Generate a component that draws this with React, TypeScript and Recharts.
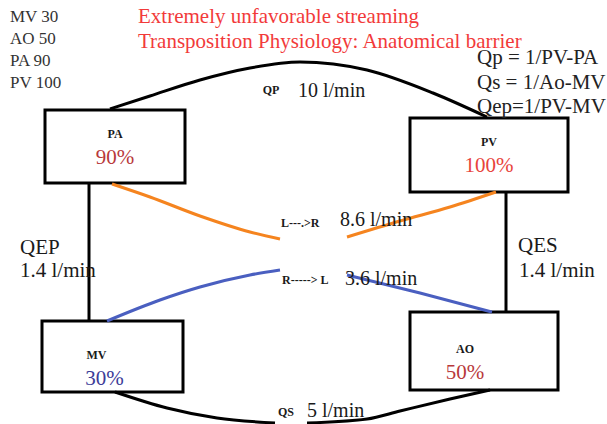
import React from 'react'
import {
  ComposedChart,
  Line,
  Scatter,
  XAxis,
  YAxis,
  ReferenceArea,
} from 'recharts'

// diagram drawn on a 607 x 424 coordinate grid (y grows downward)
const W = 607
const H = 424

// chambers: name, saturation, box corners
const chambers = [
  { name: 'PA', sat: '90%', x1: 45, x2: 185, y1: 110, y2: 183, color: '#b8393b' },
  { name: 'PV', sat: '100%', x1: 410, x2: 568, y1: 118, y2: 192, color: '#e8433b' },
  { name: 'MV', sat: '30%', x1: 42, x2: 183, y1: 321, y2: 392, color: '#3c3c98' },
  { name: 'AO', sat: '50%', x1: 410, x2: 558, y1: 312, y2: 390, color: '#b8393b' },
]

// flow paths between chambers
const qpPath = [
  { x: 110, y: 109 }, { x: 150, y: 96 }, { x: 200, y: 80 }, { x: 250, y: 68 },
  { x: 300, y: 62 }, { x: 367, y: 70 }, { x: 433, y: 93 }, { x: 487, y: 117 },
]
const qsLeft = [{ x: 115, y: 392 }, { x: 167, y: 408 }, { x: 217, y: 418 }, { x: 275, y: 423 }]
const qsRight = [
  { x: 307, y: 423 }, { x: 367, y: 419 }, { x: 400, y: 411 }, { x: 450, y: 399 }, { x: 490, y: 390 },
]
const lrLeft = [{ x: 112, y: 184 }, { x: 150, y: 197 }, { x: 200, y: 216 }, { x: 250, y: 232 }, { x: 280, y: 239 }]
const lrRight = [{ x: 347, y: 237 }, { x: 400, y: 221 }, { x: 450, y: 207 }, { x: 496, y: 192 }]
const rlLeft = [{ x: 107, y: 321 }, { x: 160, y: 300 }, { x: 200, y: 287 }, { x: 250, y: 275 }, { x: 280, y: 270 }]
const rlRight = [{ x: 347, y: 275 }, { x: 420, y: 293 }, { x: 492, y: 312 }]
const qepPath = [{ x: 89, y: 184 }, { x: 89, y: 321 }]
const qesPath = [{ x: 506, y: 192 }, { x: 506, y: 312 }]

const legendLines = ['MV 30', 'AO 50', 'PA 90', 'PV 100']
const titleLines = ['Extremely unfavorable streaming', 'Transposition Physiology: Anatomical barrier']
const formulas = ['Qp = 1/PV-PA', 'Qs = 1/Ao-MV', 'Qep=1/PV-MV']

type Note = {
  x: number
  y: number
  text: string
  size: number
  fill?: string
  bold?: boolean
  anchor?: 'start' | 'middle' | 'end'
}

const notes: Note[] = [
  ...legendLines.map((t, i) => ({ x: 10, y: 16 + i * 22, text: t, size: 17, fill: '#333' })),
  ...titleLines.map((t, i) => ({ x: 138, y: 16 + i * 25, text: t, size: 21, fill: '#f23a3a' })),
  ...formulas.map((t, i) => ({ x: 477, y: 57 + i * 24.5, text: t, size: 21, fill: '#222' })),
  { x: 271, y: 90, text: 'QP', size: 12, bold: true, anchor: 'middle' },
  { x: 298, y: 90, text: '10 l/min', size: 20 },
  { x: 20, y: 247, text: 'QEP', size: 21 },
  { x: 20, y: 270, text: '1.4 l/min', size: 21 },
  { x: 518, y: 245, text: 'QES', size: 21 },
  { x: 519, y: 270, text: '1.4 l/min', size: 21 },
  { x: 281, y: 223, text: 'L---.>R', size: 12, bold: true },
  { x: 340, y: 219, text: '8.6 l/min', size: 20 },
  { x: 282, y: 280, text: 'R-----> L', size: 12, bold: true },
  { x: 345, y: 278, text: '3.6 l/min', size: 20 },
  { x: 286, y: 412, text: 'QS', size: 12, bold: true, anchor: 'middle' },
  { x: 307, y: 410, text: '5 l/min', size: 20 },
  ...chambers.flatMap((c) => {
    const cx = (c.x1 + c.x2) / 2 - (c.name === 'MV' ? 16 : c.name === 'AO' ? 19 : 0)
    const top = c.y1 + (c.y2 - c.y1) * 0.33 + (c.name === 'MV' || c.name === 'AO' ? 11 : 0)
    return [
      { x: cx, y: top, text: c.name, size: 12, bold: true, anchor: 'middle' as const },
      { x: cx + (c.name === 'MV' ? 8 : 0), y: top + 23, text: c.sat, size: 21, fill: c.color, anchor: 'middle' as const },
    ]
  }),
]

const NoteShape = (props: any) => {
  const { cx, cy, payload } = props
  if (cx == null || cy == null) return null
  return (
    <text
      x={cx}
      y={cy}
      textAnchor={payload.anchor ?? 'start'}
      dominantBaseline="central"
      fontFamily="'Liberation Serif', 'Times New Roman', serif"
      fontSize={payload.size}
      fontWeight={payload.bold ? 700 : 400}
      fill={payload.fill ?? '#1a1a1a'}
    >
      {payload.text}
    </text>
  )
}

const paths: { data: { x: number; y: number }[]; color: string }[] = [
  { data: qpPath, color: '#000' },
  { data: qsLeft, color: '#000' },
  { data: qsRight, color: '#000' },
  { data: qepPath, color: '#000' },
  { data: qesPath, color: '#000' },
  { data: lrLeft, color: '#f5841f' },
  { data: lrRight, color: '#f5841f' },
  { data: rlLeft, color: '#4a5fc0' },
  { data: rlRight, color: '#4a5fc0' },
]

export default function App() {
  return (
    <div style={{ position: 'absolute', left: 0, top: 0, background: '#fff' }}>
      <ComposedChart width={W} height={H} margin={{ top: 0, right: 0, bottom: 0, left: 0 }}>
        <XAxis type="number" dataKey="x" domain={[0, W]} allowDataOverflow hide />
        <YAxis type="number" dataKey="y" domain={[0, H]} allowDataOverflow reversed hide />
        {paths.map((p, i) => (
          <Line
            key={i}
            data={p.data}
            dataKey="y"
            type="monotone"
            stroke={p.color}
            strokeWidth={3}
            dot={false}
            activeDot={false}
            isAnimationActive={false}
          />
        ))}
        {chambers.map((c) => (
          <ReferenceArea
            key={c.name}
            x1={c.x1}
            x2={c.x2}
            y1={c.y1}
            y2={c.y2}
            fill="#fff"
            fillOpacity={0}
            stroke="#000"
            strokeWidth={3}
          />
        ))}
        <Scatter data={notes} shape={NoteShape} isAnimationActive={false} />
      </ComposedChart>
    </div>
  )
}
